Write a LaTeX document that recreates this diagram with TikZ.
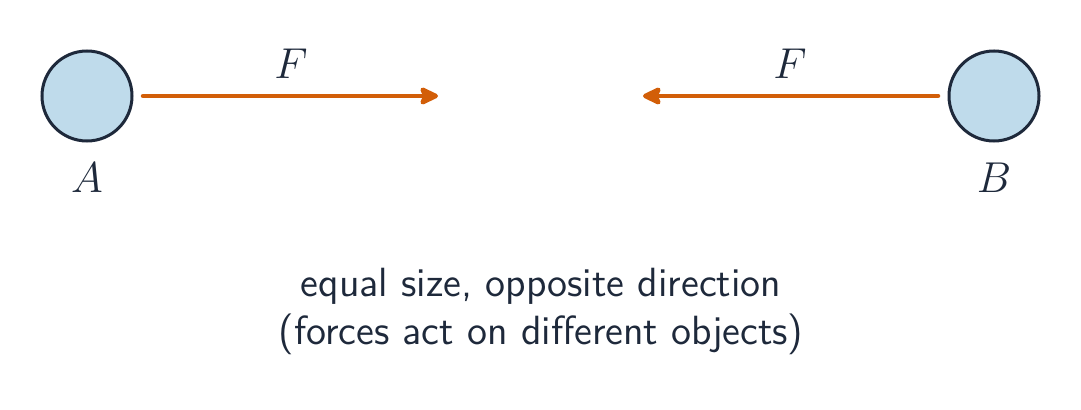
\documentclass[tikz,border=0pt]{standalone}
\usetikzlibrary{arrows.meta}
\definecolor{ink}{RGB}{30,41,59}
\definecolor{ballfill}{RGB}{191,219,235}
\definecolor{forcecol}{RGB}{210,94,8}
\tikzset{
  body/.style={circle, draw=ink, fill=ballfill, line width=1pt, minimum size=30pt, inner sep=0pt},
  force/.style={draw=forcecol, line width=1.5pt, line cap=round, -{Stealth[length=7.5pt,width=7pt,inset=1.5pt,round]}},
  lbl/.style={text=ink, anchor=base, inner sep=0pt, font=\fontsize{13.5}{16}\selectfont},
}
\begin{document}
\begin{tikzpicture}[x=0.3333pt, y=-0.3333pt]
\useasboundingbox (0,0) rectangle (1081,410);
\node[body] (A) at (87,96) {};
\node[body] (B) at (994,96) {};
\coordinate (a1) at (143,96);
\coordinate (a2) at (438,96);
\coordinate (b1) at (938,96);
\coordinate (b2) at (643,96);
\draw[force] (a1) -- (a2);
\draw[force] (b1) -- (b2);
\node[lbl] (FA) at (291,79) {$F$};
\node[lbl] (FB) at (790,79) {$F$};
\node[lbl] (LA) at (87,193) {$A$};
\node[lbl] (LB) at (994,193) {$B$};
\node[text=ink, align=center, font=\sffamily\fontsize{13.6}{16}\selectfont, inner sep=0pt] (cap) at (541,311)
  {equal size, opposite direction\\(forces act on different objects)};
\end{tikzpicture}
\end{document}
